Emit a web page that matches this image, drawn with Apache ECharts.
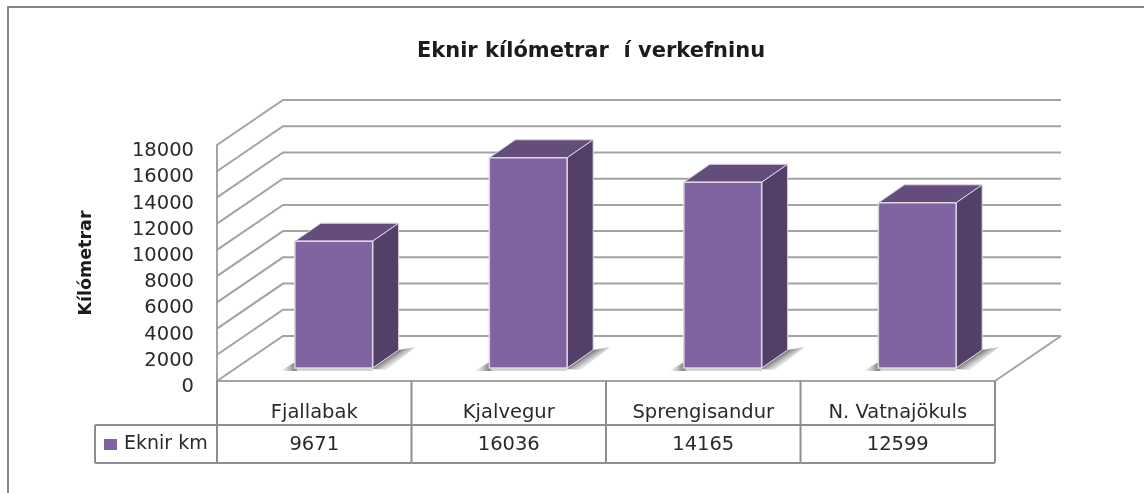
<!DOCTYPE html>
<html>
<head>
<meta charset="utf-8">
<style>html,body{margin:0;padding:0;background:#fff}#c{width:1144px;height:493px}</style>
<script src="https://cdn.jsdelivr.net/npm/echarts@6/dist/echarts.min.js"></script>
</head>
<body>
<div id="c"></div>
<script>
const categories = ['Fjallabak', 'Kjalvegur', 'Sprengisandur', 'N. Vatnajökuls'];
const values = [9671, 16036, 14165, 12599];
const yTicks = [0, 2000, 4000, 6000, 8000, 10000, 12000, 14000, 16000, 18000];
const seriesName = 'Eknir km';
const titleText = 'Eknir kílómetrar  í verkefninu';
const yAxisTitle = 'Kílómetrar';

const FONT = '"DejaVu Sans"';
const LINE = '#a3a3a3', DARK = '#8e8e8e';
const WALL = {dx: 66, dy: -45}, BAR_OFF = {dx: 19.5, dy: -13}, BAR_D = {dx: 26, dy: -18};
const ROW1 = 44, ROW2 = 82;

function line(x1, y1, x2, y2, color, w) {
  return {type: 'line', shape: {x1, y1, x2, y2}, style: {stroke: color, lineWidth: w, fill: null}};
}
function poly(points, fill, stroke, w) {
  return {type: 'polygon', shape: {points}, style: {fill, stroke: stroke || null, lineWidth: w || 0}};
}
function fade(x, y, x2, y2, c) {
  return {type: 'linear', x, y, x2, y2, global: true,
    colorStops: [{offset: 0, color: c}, {offset: 1, color: 'rgba(150,150,150,0)'}]};
}

const chart = echarts.init(document.getElementById('c'), null, {renderer: 'canvas'});
chart.setOption({
  animation: false,
  backgroundColor: '#fff',
  tooltip: {show: false},
  title: {
    text: titleText, left: 586, top: 36, textAlign: 'center',
    textStyle: {fontFamily: FONT, fontSize: 21, fontWeight: 'bold', color: '#1c1c1c'}
  },
  legend: {
    data: [seriesName], left: 101, top: 432, itemWidth: 13, itemHeight: 11, icon: 'rect', padding: 3,
    selectedMode: false,
    textStyle: {fontFamily: FONT, fontSize: 19, color: '#2a2a2a', padding: [0, 0, 0, 2]}
  },
  grid: {left: 217, right: 149, top: 145, bottom: 112, containLabel: false},
  xAxis: {
    type: 'category', data: categories,
    axisLine: {show: true, lineStyle: {color: LINE, width: 2}},
    axisTick: {show: false},
    axisLabel: {margin: 22, interval: 0, fontFamily: FONT, fontSize: 19.5, color: '#2a2a2a'}
  },
  yAxis: {
    type: 'value', min: 0, max: 18000, interval: 2000,
    name: yAxisTitle, nameLocation: 'middle', nameGap: 122,
    nameTextStyle: {fontFamily: FONT, fontSize: 17.5, fontWeight: 'bold', color: '#1c1c1c'},
    axisLine: {show: true, lineStyle: {color: LINE, width: 2}},
    axisTick: {show: false},
    splitLine: {show: false},
    axisLabel: {
      margin: 23, fontFamily: FONT, fontSize: 19.5, color: '#2a2a2a',
      verticalAlign: 'top', lineHeight: 12,
      formatter: v => String(v)
    }
  },
  graphic: [
    {type: 'polyline', silent: true, z: 0, shape: {points: [[8, 493], [8, 7], [1144, 7]]},
     style: {stroke: '#868686', lineWidth: 2, fill: null}}
  ],
  series: [
    {
      type: 'custom', name: 'walls', z: 1, silent: true,
      data: yTicks.map(t => [0, t]),
      renderItem(params, api) {
        const cs = params.coordSys, y = api.coord([0, api.value(1)])[1];
        const x0 = cs.x, x1 = cs.x + cs.width;
        const kids = [
          {type: 'polyline',
           shape: {points: [[x0, y], [x0 + WALL.dx, y + WALL.dy], [x1 + WALL.dx, y + WALL.dy]]},
           style: {stroke: LINE, lineWidth: 2, fill: null}}
        ];
        if (api.value(1) === 0) kids.push(line(x1, y, x1 + WALL.dx, y + WALL.dy, LINE, 2));
        return {type: 'group', children: kids};
      }
    },
    {
      type: 'custom', name: seriesName, z: 3, silent: true,
      itemStyle: {color: '#8064a2'},
      encode: {x: 0, y: 1},
      data: values.map((v, i) => [i, v]),
      renderItem(params, api) {
        const p0 = api.coord([api.value(0), 0]), pv = api.coord([api.value(0), api.value(1)]);
        const band = api.size([1, 0])[0], w = band * 0.4;
        const l = p0[0] + BAR_OFF.dx - w / 2, r = l + w;
        const b = p0[1] + BAR_OFF.dy, t = pv[1] + BAR_OFF.dy;
        const d = BAR_D, edge = '#dcd6e4';
        return {type: 'group', children: [
          poly([[r - 1, b + 1], [r + d.dx, b + d.dy], [r + d.dx + 17, b + d.dy - 3], [r + 14, b + 2]],
               fade(r + 13, b - 9, r + 19, b, 'rgba(80,80,80,0.8)')),
          poly([[l + 2, b - 7], [l - 15, b + 3], [l + 2, b + 3]],
               fade(l + 1, 0, l - 15, 0, 'rgba(80,80,80,0.8)')),
          poly([[l, b], [r, b], [r, b + 3], [l, b + 3]], 'rgba(175,175,175,0.55)'),
          poly([[l, t], [l + d.dx, t + d.dy], [r + d.dx, t + d.dy], [r, t]], '#644c7b', edge, 1),
          poly([[r, t], [r + d.dx, t + d.dy], [r + d.dx, b + d.dy], [r, b]], '#533f68', edge, 1),
          {type: 'rect', shape: {x: l, y: t, width: w, height: b - t},
           style: {fill: api.visual('color'), stroke: edge, lineWidth: 1.5}}
        ]};
      }
    },
    {
      type: 'custom', name: 'table', z: 2, silent: true,
      encode: {x: 0, y: 1},
      data: values.map((v, i) => [i, v]),
      renderItem(params, api) {
        const i = api.value(0), band = api.size([1, 0])[0];
        const cx = api.coord([i, 0])[0], y0 = api.coord([i, 0])[1];
        const l = cx - band / 2, r = cx + band / 2;
        const kids = [
          line(r, y0, r, y0 + ROW2, DARK, 2),
          line(l, y0 + ROW1, r, y0 + ROW1, DARK, 2),
          line(l, y0 + ROW2, r, y0 + ROW2, DARK, 2),
          {type: 'text', style: {text: String(api.value(1)), x: cx, y: y0 + 64, align: 'center',
            verticalAlign: 'middle', fontFamily: FONT, fontSize: 19.5, fill: '#2a2a2a'}}
        ];
        if (i === 0) {
          const lx = l - 122;
          kids.push(line(l, y0, l, y0 + ROW2, DARK, 2),
            line(lx, y0 + ROW1, l, y0 + ROW1, DARK, 2),
            line(lx, y0 + ROW2, l, y0 + ROW2, DARK, 2),
            line(lx, y0 + ROW1, lx, y0 + ROW2, DARK, 2));
        }
        return {type: 'group', children: kids};
      }
    }
  ]
});
</script>
</body>
</html>
